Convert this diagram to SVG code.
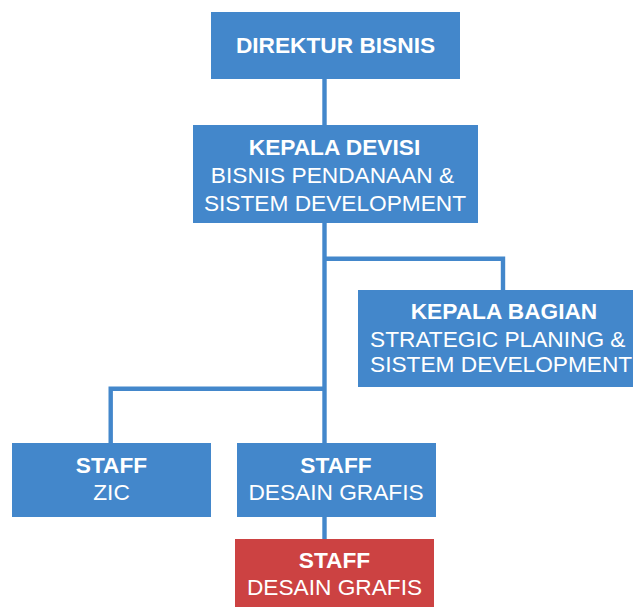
<svg xmlns="http://www.w3.org/2000/svg" width="633" height="607" viewBox="0 0 633 607">
<style>
.box{fill:#4387cb;}
.red{fill:#cc4242;}
.conn{fill:none;stroke:#4387cb;stroke-width:4.4;}
text{font-family:"Liberation Sans",Arial,sans-serif;fill:#ffffff;font-size:22.7px;}
.b{font-weight:bold;}
.m{text-anchor:middle;}
</style>
<rect width="633" height="607" fill="#ffffff"/>
<g id="connectors">
<path class="conn" d="M324.5,79 V443"/>
<path class="conn" d="M324.5,258.7 H503 V290"/>
<path class="conn" d="M324.5,388.7 H110.7 V443"/>
<path class="conn" d="M324.5,517 V539"/>
</g>
<g id="direktur">
<rect class="box" x="211" y="12" width="249" height="67"/>
<text class="b m" x="335.5" y="53">DIREKTUR BISNIS</text>
</g>
<g id="kepala-devisi">
<rect class="box" x="193" y="125" width="285" height="98"/>
<text class="b m" x="334.5" y="155">KEPALA DEVISI</text>
<text class="m" x="332.5" y="183">BISNIS PENDANAAN &amp;</text>
<text class="m" x="335" y="211">SISTEM DEVELOPMENT</text>
</g>
<g id="kepala-bagian">
<rect class="box" x="358" y="290" width="290" height="97"/>
<text class="b m" x="504" y="319">KEPALA BAGIAN</text>
<text x="370" y="347">STRATEGIC PLANING &amp;</text>
<text x="370" y="372">SISTEM DEVELOPMENT</text>
</g>
<g id="staff-zic">
<rect class="box" x="12" y="443" width="199" height="74"/>
<text class="b m" x="111.5" y="473">STAFF</text>
<text class="m" x="111.5" y="500">ZIC</text>
</g>
<g id="staff-desain-1">
<rect class="box" x="237" y="443" width="199" height="74"/>
<text class="b m" x="336" y="473">STAFF</text>
<text class="m" x="336" y="500">DESAIN GRAFIS</text>
</g>
<g id="staff-desain-2">
<rect class="red" x="235" y="539" width="199" height="80"/>
<text class="b m" x="334.5" y="568">STAFF</text>
<text class="m" x="334.5" y="595">DESAIN GRAFIS</text>
</g>
</svg>
